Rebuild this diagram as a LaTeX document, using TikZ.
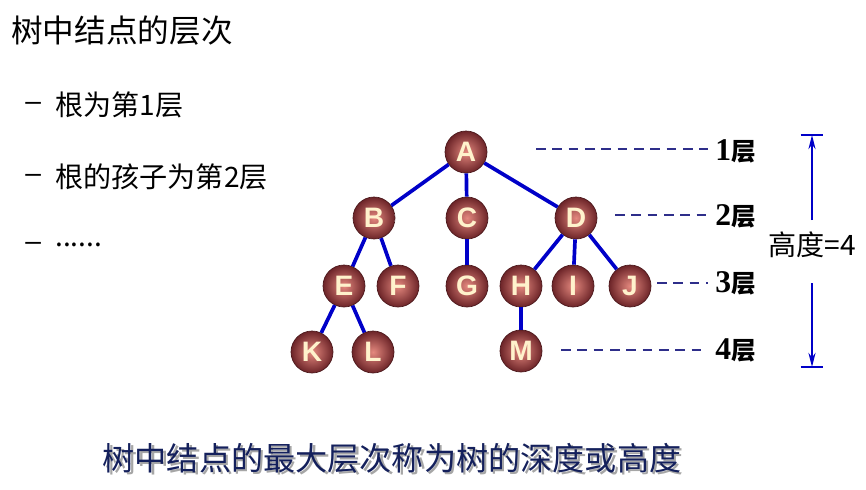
\documentclass[tikz,border=0pt]{standalone}
\usepackage{fontspec}
\setmainfont{Noto Sans CJK SC}
\newfontfamily\letterfont{Liberation Sans}
\newfontfamily\levelfont{Liberation Serif}
\usetikzlibrary{
	arrows.meta,
	positioning
}
\definecolor{BallEdge}{RGB}{108,36,40}
\definecolor{BallCore}{RGB}{228,136,126}
\definecolor{LetterCream}{RGB}{255,242,204}
\definecolor{EdgeBlue}{RGB}{0,0,200}
\definecolor{DashNavy}{RGB}{46,46,138}
\definecolor{TitleNavy}{RGB}{20,32,92}

\begin{document}
\begin{tikzpicture}[x=0.02cm, y=-0.02cm,
		ball/.style={circle, minimum size=0.84cm, inner sep=0pt, draw=BallEdge!70!black, thin,
			inner color=BallCore, outer color=BallEdge, text=LetterCream,
			font=\letterfont\bfseries\fontsize{16}{16}\selectfont},
		link/.style={EdgeBlue, line width=2.1pt},
		levelline/.style={DashNavy, line width=1.1pt, dash pattern=on 5.5pt off 3.8pt},
		levellabel/.style={anchor=west, inner sep=4pt},
		dim/.style={EdgeBlue, line width=1.3pt},
		item/.style={anchor=west, inner sep=0pt, font=\fontsize{16}{18}\selectfont}]
	\useasboundingbox (0,0) rectangle (866,490);
	% left text
	\node[item, font=\fontsize{18}{20}\selectfont] (title) at (11,31) {树中结点的层次};
	\node[item, font=\letterfont\fontsize{16}{18}\selectfont] (dash1) at (25,106) {–};
	\node[item] (item1) at (55,105) {根为第1层};
	\node[item, font=\letterfont\fontsize{16}{18}\selectfont] (dash2) at (25,178) {–};
	\node[item] (item2) at (55,177) {根的孩子为第2层};
	\node[item, font=\letterfont\fontsize{16}{18}\selectfont] (dash3) at (25,246) {–};
	\node[item] (item3) at (55,245) {......};
	% tree
	\node[ball] (A) at (466,152) {A};
	\node[ball] (B) at (374,218) {B};
	\node[ball] (C) at (467,218) {C};
	\node[ball] (D) at (576,218) {D};
	\node[ball] (E) at (344,286) {E};
	\node[ball] (F) at (398,286) {F};
	\node[ball] (G) at (467,286) {G};
	\node[ball] (H) at (521,286) {H};
	\node[ball] (I) at (573,286) {I};
	\node[ball] (J) at (630,286) {J};
	\node[ball] (K) at (312,352) {K};
	\node[ball] (L) at (373,352) {L};
	\node[ball] (M) at (521,351) {M};
	\draw[link] (A) -- (B);
	\draw[link] (A) -- (C);
	\draw[link] (A) -- (D);
	\draw[link] (B) -- (E);
	\draw[link] (B) -- (F);
	\draw[link] (C) -- (G);
	\draw[link] (D) -- (H);
	\draw[link] (D) -- (I);
	\draw[link] (D) -- (J);
	\draw[link] (E) -- (K);
	\draw[link] (E) -- (L);
	\draw[link] (H) -- (M);
	% levels
	\node[levellabel] (lv1) at (708,151) {\levelfont\bfseries\fontsize{18}{18}\selectfont 1\normalfont\bfseries\fontsize{14}{14}\selectfont 层};
	\node[levellabel] (lv2) at (708,216) {\levelfont\bfseries\fontsize{18}{18}\selectfont 2\normalfont\bfseries\fontsize{14}{14}\selectfont 层};
	\node[levellabel] (lv3) at (708,283) {\levelfont\bfseries\fontsize{18}{18}\selectfont 3\normalfont\bfseries\fontsize{14}{14}\selectfont 层};
	\node[levellabel] (lv4) at (708,350) {\levelfont\bfseries\fontsize{18}{18}\selectfont 4\normalfont\bfseries\fontsize{14}{14}\selectfont 层};
	\coordinate (d1) at (536,149);
	\coordinate (d2) at (615,215);
	\coordinate (d3) at (657,283);
	\coordinate (d4) at (561,350);
	\draw[levelline] (d1) -- (d1 -| lv1.west);
	\draw[levelline] (d2) -- (d2 -| lv2.west);
	\draw[levelline] (d3) -- (d3 -| lv3.west);
	\draw[levelline] (d4) -- (d4 -| lv4.west);
	% height
	\node[inner sep=0pt, font=\fontsize{16}{18}\selectfont] (height) at (812,245) {高度=4};
	\coordinate (htop) at (812,135);
	\coordinate (hbot) at (812,367);
	\coordinate (hup) at (812,220);
	\coordinate (hdown) at (812,283);
	\draw[dim] ([xshift=-6.5pt]htop) -- ([xshift=6.5pt]htop);
	\draw[dim] ([xshift=-6.5pt]hbot) -- ([xshift=6.5pt]hbot);
	\draw[dim, -{Stealth[length=8pt, width=4pt]}] (hup) -- (htop);
	\draw[dim, -{Stealth[length=8pt, width=4pt]}] (hdown) -- (hbot);
	% bottom line
	\node[inner sep=0pt, text=black!35, font=\fontsize{18.3}{20}\selectfont] (summaryshadow) at (394.5,460.5) {树中结点的最大层次称为树的深度或高度};
	\node[inner sep=0pt, text=TitleNavy, font=\fontsize{18.3}{20}\selectfont] (summary) at (392,458) {树中结点的最大层次称为树的深度或高度};
\end{tikzpicture}
\end{document}
